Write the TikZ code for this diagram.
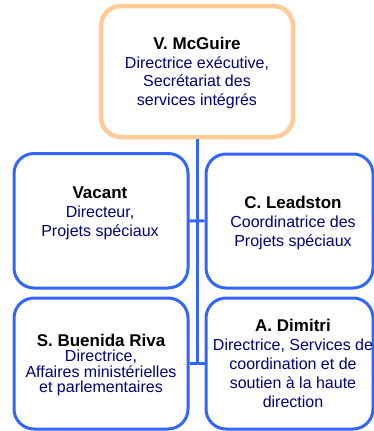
\documentclass[tikz,border=0pt]{standalone}
\usepackage{fontspec}
\setmainfont{Liberation Sans}
\definecolor{boxblue}{RGB}{51,102,255}
\definecolor{boxorange}{RGB}{255,204,153}
\definecolor{navytext}{RGB}{0,0,128}
\tikzset{
  orgbox/.style={draw=boxblue, line width=3pt, rounded corners=20pt, inner sep=0pt},
  topbox/.style={draw=boxorange, line width=4.5pt, rounded corners=20pt, inner sep=0pt},
  conn/.style={draw=boxblue, line width=3pt},
  txt/.style={align=center, inner sep=0pt, text=navytext, font=\fontsize{16}{19}\selectfont},
  txttight/.style={align=center, inner sep=0pt, text=navytext, font=\fontsize{16}{15.5}\selectfont},
}
\newcommand{\nm}[1]{{\color{black}\fontsize{17}{19}\selectfont\bfseries #1}}
\begin{document}
\begin{tikzpicture}[x=1pt,y=-1pt]
\useasboundingbox (0,0) rectangle (374,431);
\node[topbox, minimum width=192pt, minimum height=131pt] (top) at (197,71.5) {};
\node[orgbox, minimum width=174pt, minimum height=134.5pt] (l1) at (101,220.75) {};
\node[orgbox, minimum width=167pt, minimum height=134pt] (r1) at (289.5,221) {};
\node[orgbox, minimum width=174pt, minimum height=131pt] (l2) at (101,363.5) {};
\node[orgbox, minimum width=167pt, minimum height=131pt] (r2) at (289.5,363.5) {};
\draw[conn] (top.south) -- (top.south |- l2.east);
\draw[conn] (l1.east) -- (r1.west);
\draw[conn] (l2.east) -- (r2.west);
\node[txt] (ttop) at (197,73) {\nm{V. McGuire}\\Directrice exécutive,\\Secrétariat des\\services intégrés};
\node[txt] (tl1) at (100,213) {\nm{Vacant}\\Directeur,\\Projets spéciaux};
\node[txt] (tr1) at (293,222.5) {\nm{C. Leadston}\\Coordinatrice des\\Projets spéciaux};
\node[txttight] (tl2) at (101,365) {\nm{S. Buenida Riva}\\Directrice,\\Affaires ministérielles\\et parlementaires};
\node[txt] (tr2) at (293,363) {\nm{A. Dimitri}\\Directrice, Services de\\coordination et de\\soutien à la haute\\direction};
\end{tikzpicture}
\end{document}
